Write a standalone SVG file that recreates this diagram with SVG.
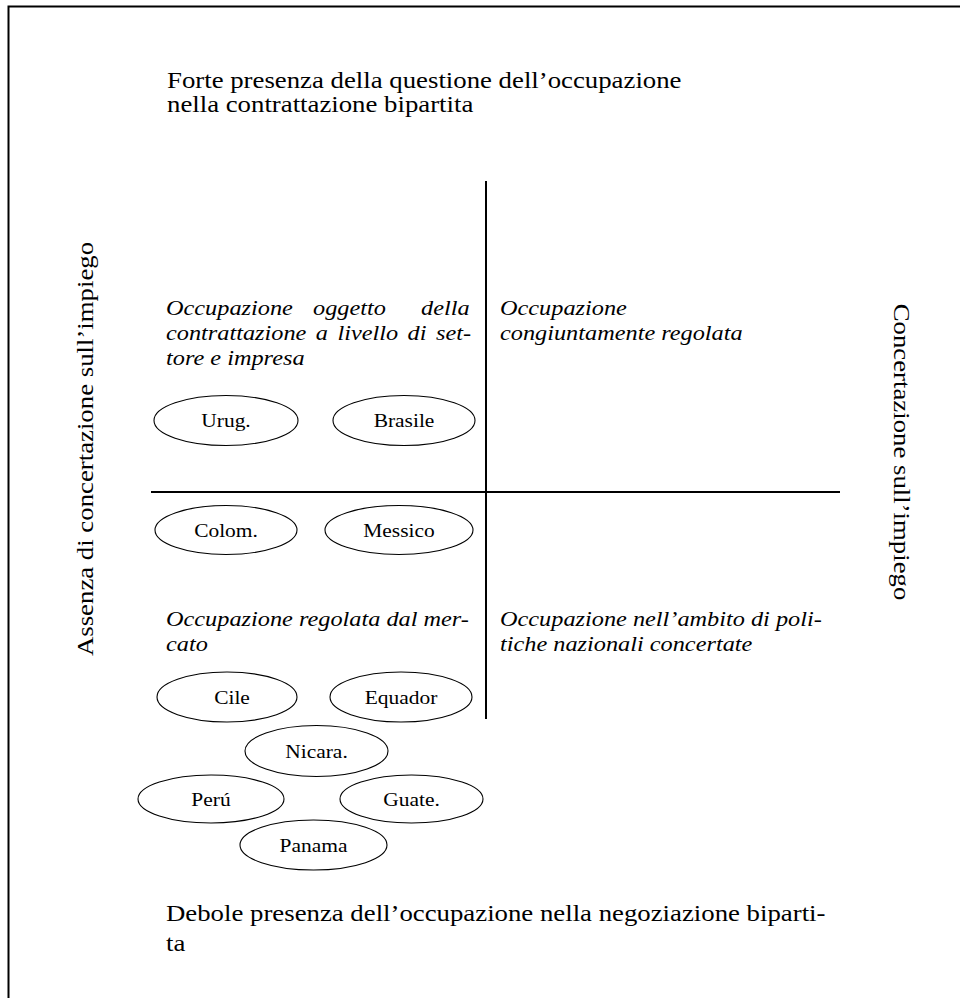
<svg xmlns="http://www.w3.org/2000/svg" width="960" height="998" viewBox="0 0 960 998">
<style>
text { font-family: "Liberation Serif", "Times New Roman", serif; fill: #000; }
.up { font-size: 23px; }
.it { font-size: 21.5px; font-style: italic; }
.lab { font-size: 18.5px; text-anchor: middle; }
.rot { font-size: 23px; text-anchor: middle; }
.node ellipse { fill: #fff; stroke: #000; stroke-width: 1.1; }
.axis { stroke: #000; stroke-width: 2; fill: none; }
</style>
<rect x="0" y="0" width="960" height="998" fill="#fff"/>
<rect x="8.5" y="6.5" width="1000" height="1000" fill="none" stroke="#000" stroke-width="2"/>

<g id="axes">
  <line class="axis" x1="486" y1="181" x2="486" y2="719"/>
  <line class="axis" x1="151" y1="492" x2="840" y2="492"/>
</g>

<g id="title-top">
  <text class="up" transform="translate(167,88) scale(1.165,1)">Forte presenza della questione dell’occupazione</text>
  <text class="up" transform="translate(167,112) scale(1.165,1)">nella contrattazione bipartita</text>
</g>
<g id="title-bottom">
  <text class="up" transform="translate(166,921) scale(1.165,1)">Debole presenza dell’occupazione nella negoziazione biparti-</text>
  <text class="up" transform="translate(166,951) scale(1.165,1)">ta</text>
</g>
<g id="axis-left">
  <text class="rot" transform="translate(93,449) rotate(-90) scale(1.165,1)">Assenza di concertazione sull’impiego</text>
</g>
<g id="axis-right">
  <text class="rot" transform="translate(894,452) rotate(90) scale(1.165,1)">Concertazione sull’impiego</text>
</g>

<g id="quadrant-tl">
  <text class="it" transform="translate(166,315) scale(1.13,1)"><tspan x="0">Occupazione</tspan><tspan x="130.1">oggetto</tspan><tspan x="225.7">della</tspan></text>
  <text class="it" transform="translate(166,340) scale(1.13,1)"><tspan x="0">contrattazione</tspan><tspan x="132.6">a</tspan><tspan x="151.7">livello</tspan><tspan x="213.8">di</tspan><tspan x="238.9">set-</tspan></text>
  <text class="it" transform="translate(166,365) scale(1.13,1)">tore e impresa</text>
</g>
<g id="quadrant-tr">
  <text class="it" transform="translate(500,315) scale(1.13,1)">Occupazione</text>
  <text class="it" transform="translate(500,340) scale(1.13,1)">congiuntamente regolata</text>
</g>
<g id="quadrant-bl">
  <text class="it" transform="translate(166,626) scale(1.13,1)">Occupazione regolata dal mer-</text>
  <text class="it" transform="translate(166,651) scale(1.13,1)">cato</text>
</g>
<g id="quadrant-br">
  <text class="it" transform="translate(500,626) scale(1.13,1)">Occupazione nell’ambito di poli-</text>
  <text class="it" transform="translate(500,651) scale(1.13,1)">tiche nazionali concertate</text>
</g>

<g id="node-urug" class="node">
  <ellipse cx="226" cy="420.5" rx="72" ry="25"/>
  <text class="lab" transform="translate(226,427) scale(1.16,1)">Urug.</text>
</g>
<g id="node-brasile" class="node">
  <ellipse cx="404" cy="420.5" rx="71" ry="25"/>
  <text class="lab" transform="translate(404,427) scale(1.16,1)">Brasile</text>
</g>
<g id="node-colom" class="node">
  <ellipse cx="226" cy="530" rx="71" ry="24.5"/>
  <text class="lab" transform="translate(226,536.5) scale(1.16,1)">Colom.</text>
</g>
<g id="node-messico" class="node">
  <ellipse cx="399" cy="530" rx="74" ry="24.5"/>
  <text class="lab" transform="translate(399,536.5) scale(1.16,1)">Messico</text>
</g>
<g id="node-cile" class="node">
  <ellipse cx="227" cy="697" rx="70" ry="25"/>
  <text class="lab" transform="translate(232,703.5) scale(1.16,1)">Cile</text>
</g>
<g id="node-equador" class="node">
  <ellipse cx="401" cy="697" rx="71" ry="25"/>
  <text class="lab" transform="translate(401,703.5) scale(1.16,1)">Equador</text>
</g>
<g id="node-nicara" class="node">
  <ellipse cx="316.5" cy="751" rx="71.5" ry="25.5"/>
  <text class="lab" transform="translate(316.5,757.5) scale(1.16,1)">Nicara.</text>
</g>
<g id="node-peru" class="node">
  <ellipse cx="211" cy="799" rx="73" ry="24"/>
  <text class="lab" transform="translate(211,805.5) scale(1.16,1)">Perú</text>
</g>
<g id="node-guate" class="node">
  <ellipse cx="411.5" cy="799" rx="71.5" ry="24"/>
  <text class="lab" transform="translate(411.5,805.5) scale(1.16,1)">Guate.</text>
</g>
<g id="node-panama" class="node">
  <ellipse cx="313.5" cy="845" rx="73.5" ry="25"/>
  <text class="lab" transform="translate(313.5,851.5) scale(1.16,1)">Panama</text>
</g>
</svg>
